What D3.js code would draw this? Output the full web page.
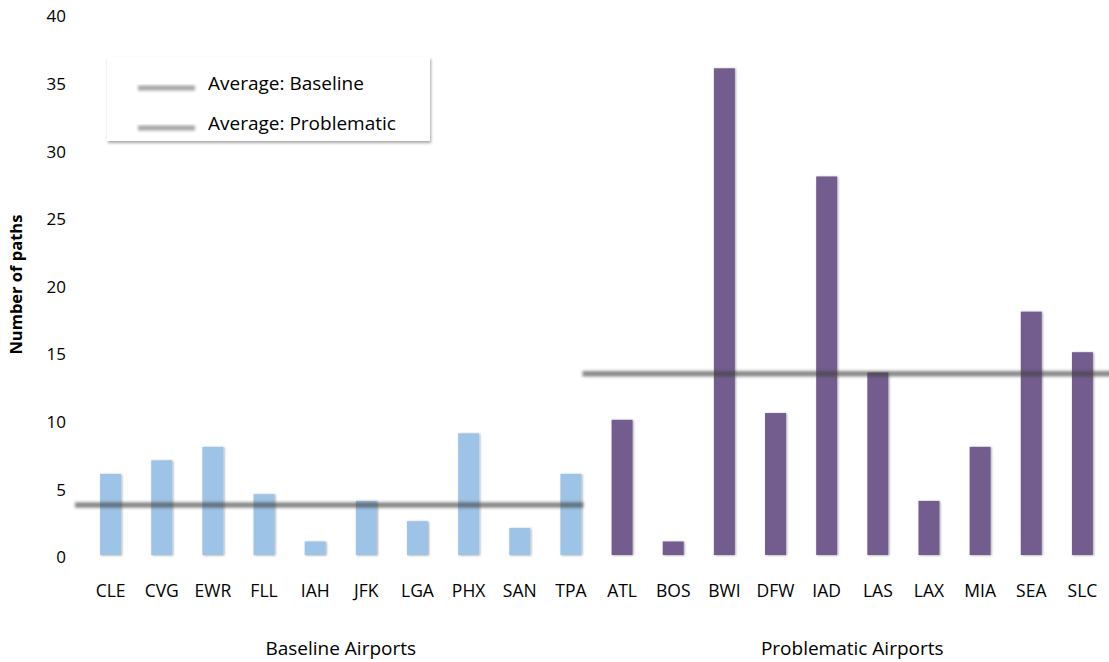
<!DOCTYPE html>
<html><head><meta charset="utf-8">
<script src="https://cdn.jsdelivr.net/npm/d3@7/dist/d3.min.js"></script>
<style>body{margin:0;background:#fff}svg{display:block}text{font-family:"Open Sans",sans-serif;fill:#000}</style>
</head><body><svg id="c" width="1109" height="662"></svg>
<script>
const baselineAirports = ["CLE","CVG","EWR","FLL","IAH","JFK","LGA","PHX","SAN","TPA"];
const baselineValues   = [6,7,8,4.5,1,4,2.5,9,2,6];
const problemAirports  = ["ATL","BOS","BWI","DFW","IAD","LAS","LAX","MIA","SEA","SLC"];
const problemValues    = [10,1,36,10.5,28,13.5,4,8,18,15];
const averageNames     = ["Average: Baseline","Average: Problematic"];
const averageValues    = [3.7,13.4];
const groupLabels      = ["Baseline Airports","Problematic Airports"];
const yTicks           = [0,5,10,15,20,25,30,35,40];

const W=1109,H=662;
const svg=d3.select("#c");
const defs=svg.append("defs");
const sh=defs.append("filter").attr("id","sh").attr("x","-50%").attr("y","-10%").attr("width","200%").attr("height","120%");
sh.append("feDropShadow").attr("dx",1).attr("dy",0.5).attr("stdDeviation",1.3).attr("flood-color","#000").attr("flood-opacity",0.35);
const bl=defs.append("filter").attr("id","bl").attr("filterUnits","userSpaceOnUse")
  .attr("x",0).attr("y",0).attr("width",W).attr("height",H);
bl.append("feGaussianBlur").attr("stdDeviation",1.4);
const lsh=defs.append("filter").attr("id","lsh").attr("x","-10%").attr("y","-10%").attr("width","120%").attr("height","130%");
lsh.append("feDropShadow").attr("dx",1).attr("dy",2).attr("stdDeviation",1.5).attr("flood-color","#000").attr("flood-opacity",0.35);

const cats=baselineAirports.concat(problemAirports);
const data=baselineAirports.map((c,i)=>({c,v:baselineValues[i],g:0}))
  .concat(problemAirports.map((c,i)=>({c,v:problemValues[i],g:1})));
const x=d3.scaleBand().domain(cats).range([85,1108]).paddingInner(0.59).paddingOuter(0.295);
const y=d3.scaleLinear().domain([0,40]).range([555,14.2]);
const colors=["#9dc3e6","#735d8f"];

// y axis
const ya=svg.append("g").attr("transform","translate(72,0)")
  .call(d3.axisLeft(y).tickValues(yTicks).tickSize(0).tickPadding(6));
ya.select(".domain").remove();
ya.selectAll("text").attr("font-size",17).attr("font-family","Open Sans").attr("dy","0.45em");

svg.append("text").attr("transform","translate(22,"+((y(0)+y(40))/2)+") rotate(-90)")
  .attr("text-anchor","middle").attr("font-size",16.5).attr("font-weight","bold").text("Number of paths");

// x axis
const xa=svg.append("g").attr("transform","translate(0,"+y(0)+")")
  .call(d3.axisBottom(x).tickSize(0).tickPadding(29));
xa.select(".domain").remove();
xa.selectAll("text").attr("font-size",17.5).attr("font-family","Open Sans").attr("dy","0.72em");

// bars
svg.append("g").selectAll("rect").data(data).join("rect")
  .attr("x",d=>x(d.c)).attr("width",x.bandwidth())
  .attr("y",d=>y(d.v)).attr("height",d=>y(0)-y(d.v))
  .attr("fill",d=>colors[d.g]).attr("filter","url(#sh)");

// group labels
const step=x.step();
const groups=[baselineAirports,problemAirports];
const gStart=g=>x(groups[g][0])-x.paddingInner()*step/2;
const gEnd=g=>x(groups[g][groups[g].length-1])+x.bandwidth()+x.paddingInner()*step/2;
svg.append("g").selectAll("text").data(groupLabels).join("text")
  .attr("x",(d,i)=>(gStart(i)+gEnd(i))/2).attr("y",655).attr("text-anchor","middle")
  .attr("font-size",19).text(d=>d);

// average lines
const lineX=[[gStart(0)-10,gEnd(0)-13],[gStart(1)-14,W+5]];
svg.append("g").selectAll("line").data(averageValues).join("line")
  .attr("x1",(d,i)=>lineX[i][0]).attr("x2",(d,i)=>lineX[i][1])
  .attr("y1",d=>y(d)).attr("y2",d=>y(d))
  .attr("stroke","#404040").attr("stroke-opacity",0.62).attr("stroke-width",5.5).attr("filter","url(#bl)");

// legend
const lg=svg.append("g");
lg.append("rect").attr("x",107).attr("y",57).attr("width",323).attr("height",84).attr("fill","#fff").attr("filter","url(#lsh)");
const li=lg.selectAll("g").data(averageNames).join("g").attr("transform",(d,i)=>"translate(0,"+(84+i*40)+")");
li.append("line").attr("x1",138).attr("x2",195).attr("y1",4).attr("y2",4)
  .attr("stroke","#4a4a4a").attr("stroke-opacity",0.5).attr("stroke-width",5).attr("filter","url(#bl)");
li.append("text").attr("x",208).attr("y",0).attr("dy","0.33em").attr("font-size",19).text(d=>d);
</script></body></html>
